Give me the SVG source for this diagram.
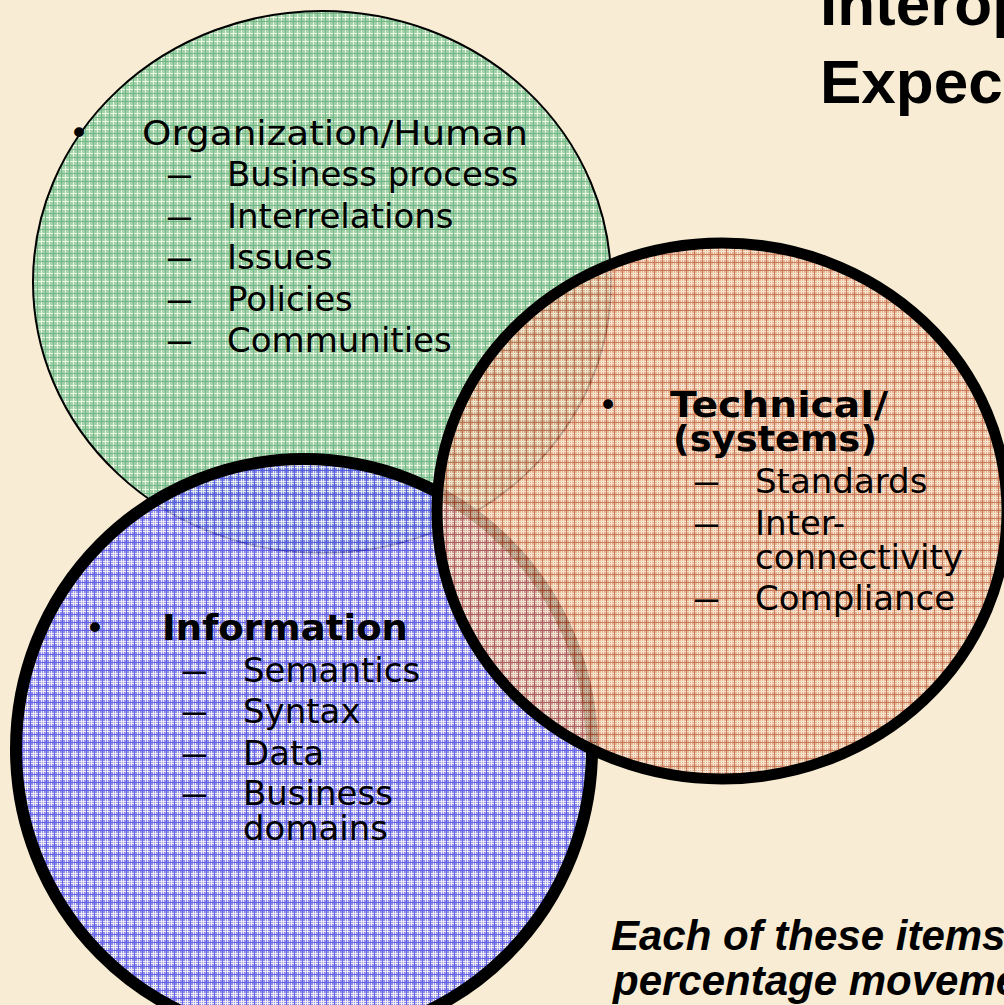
<svg xmlns="http://www.w3.org/2000/svg" width="1004" height="1005" viewBox="0 0 1004 1005">
<style>
.t{font-family:"DejaVu Sans","Verdana",sans-serif;font-size:34px;fill:#000}
.b{font-weight:bold;font-size:36px}
.h{font-family:"Liberation Sans",Arial,sans-serif;font-weight:bold;fill:#000}
</style>
<defs>
<pattern id="pg" width="8" height="8" patternUnits="userSpaceOnUse">
<rect width="8" height="8" fill="#a0d2aa"/>
<path d="M0 1.5H8M1.5 0V8" stroke="#eef6e2" stroke-width="1"/>
<path d="M0 5.5H8M5.5 0V8" stroke="#74b686" stroke-width="1"/>
</pattern>
<pattern id="pb" width="8" height="8" patternUnits="userSpaceOnUse">
<rect width="8" height="8" fill="#7c7cf2"/>
<path d="M0 1.5H8M1.5 0V8M0 3.5H8M3.5 0V8" stroke="#eeeaf6" stroke-width="1"/>
<path d="M0 6.5H8M6.5 0V8" stroke="#4444ea" stroke-width="1"/>
</pattern>
<pattern id="po" width="8" height="8" patternUnits="userSpaceOnUse">
<rect width="8" height="8" fill="#e0a486"/>
<path d="M0 1.5H8M1.5 0V8M0 3.5H8M3.5 0V8" stroke="#f8e2cc" stroke-width="1"/>
<path d="M0 6.5H8M6.5 0V8" stroke="#bf5e38" stroke-width="1"/>
</pattern>
</defs>
<rect width="1004" height="1005" fill="#f8edd4"/>

<g id="title">
<text class="h" x="820" y="25" font-size="62">Interop</text>
<text class="h" x="820" y="103" font-size="62">Expec</text>
</g>

<g id="organization-circle">
<ellipse cx="322" cy="282" rx="289" ry="271" fill="url(#pg)" stroke="#000" stroke-width="2"/>
</g>
<g id="information-circle">
<ellipse cx="304" cy="749" rx="288" ry="290" fill="url(#pb)" fill-opacity="0.82" stroke="#000" stroke-width="12"/>
</g>
<g id="technical-circle">
<ellipse cx="722" cy="511" rx="285" ry="268" fill="url(#po)" fill-opacity="0.8" stroke="#000" stroke-width="11"/>
</g>

<g id="connectors"/>

<g id="organization-text">
<text class="t" x="69" y="145">•</text>
<text class="t" x="142" y="145" font-size="36" textLength="386" lengthAdjust="spacingAndGlyphs">Organization/Human</text>
<text class="t" transform="translate(165,186) scale(1.7,1)">–</text><text class="t" x="227" y="186">Business process</text>
<text class="t" transform="translate(165,228) scale(1.7,1)">–</text><text class="t" x="227" y="228">Interrelations</text>
<text class="t" transform="translate(165,269) scale(1.7,1)">–</text><text class="t" x="227" y="269">Issues</text>
<text class="t" transform="translate(165,311) scale(1.7,1)">–</text><text class="t" x="227" y="311">Policies</text>
<text class="t" transform="translate(165,352) scale(1.7,1)">–</text><text class="t" x="227" y="352">Communities</text>
</g>

<g id="technical-text">
<text class="t" x="598" y="417">•</text>
<text class="t b" x="670" y="417" textLength="218" lengthAdjust="spacingAndGlyphs">Technical/</text>
<text class="t b" x="673" y="451" textLength="204" lengthAdjust="spacingAndGlyphs">(systems)</text>
<text class="t" transform="translate(692,493) scale(1.7,1)">–</text><text class="t" x="755" y="493">Standards</text>
<text class="t" transform="translate(692,535) scale(1.7,1)">–</text><text class="t" x="755" y="535">Inter-</text>
<text class="t" x="755" y="569">connectivity</text>
<text class="t" transform="translate(692,610) scale(1.7,1)">–</text><text class="t" x="755" y="610">Compliance</text>
</g>

<g id="information-text">
<text class="t" x="85" y="640">•</text>
<text class="t b" x="162" y="640" textLength="246" lengthAdjust="spacingAndGlyphs">Information</text>
<text class="t" transform="translate(180,682) scale(1.7,1)">–</text><text class="t" x="243" y="682">Semantics</text>
<text class="t" transform="translate(180,723) scale(1.7,1)">–</text><text class="t" x="243" y="723">Syntax</text>
<text class="t" transform="translate(180,765) scale(1.7,1)">–</text><text class="t" x="243" y="765">Data</text>
<text class="t" transform="translate(180,805) scale(1.7,1)">–</text><text class="t" x="243" y="805">Business</text>
<text class="t" x="243" y="840">domains</text>
</g>

<g id="note">
<text class="h" x="611" y="950" font-size="42" font-style="italic">Each of these items</text>
<text class="h" x="613" y="995" font-size="42" font-style="italic">percentage moveme</text>
</g>
</svg>
